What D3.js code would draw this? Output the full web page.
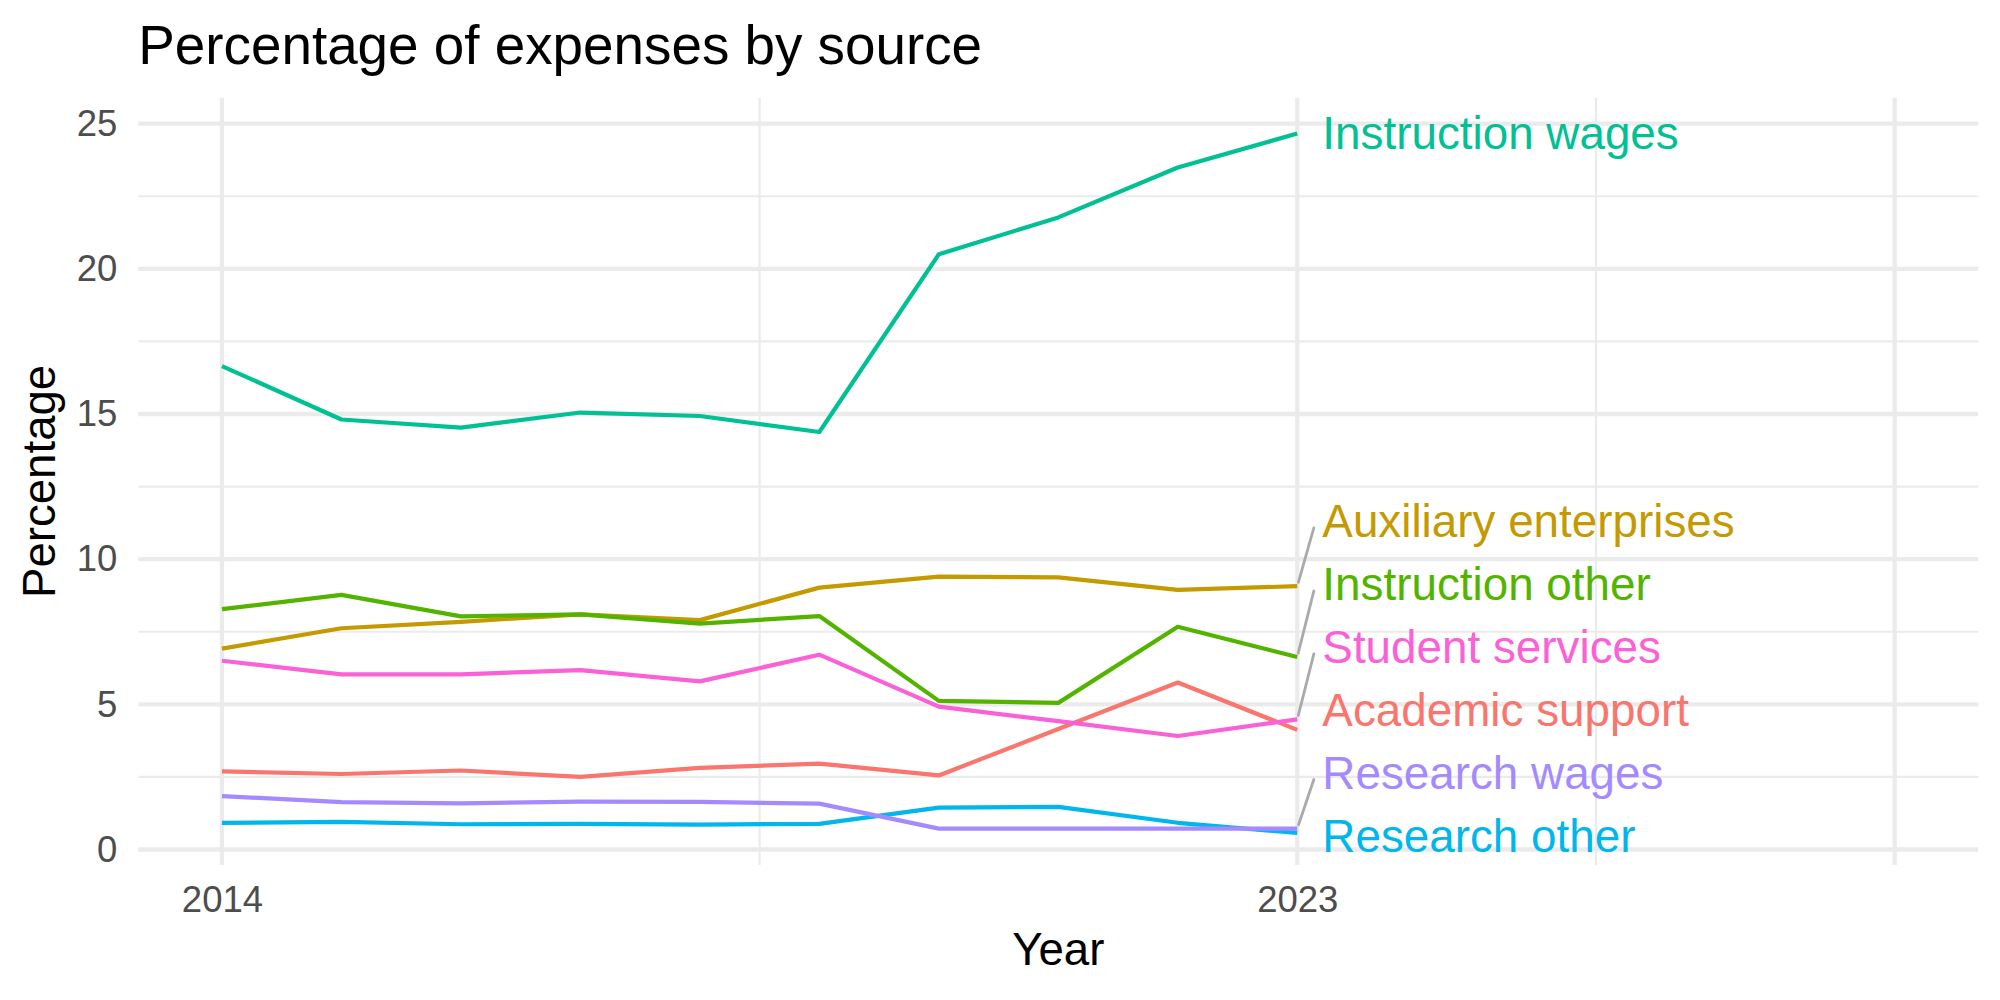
<!DOCTYPE html>
<html>
<head>
<meta charset="utf-8">
<script src="https://cdn.jsdelivr.net/npm/d3@7"></script>
<style>
  html, body { margin: 0; padding: 0; background: #ffffff; }
  svg { display: block; font-family: "Liberation Sans", Arial, Helvetica, sans-serif; }
</style>
</head>
<body>
<svg id="chart" width="2000" height="1000"></svg>
<script>
// ---------------- data ----------------
const years = [2014, 2015, 2016, 2017, 2018, 2019, 2020, 2021, 2022, 2023];
const seriesNames = ["Academic support", "Auxiliary enterprises", "Instruction other",
  "Instruction wages", "Research other", "Research wages", "Student services"];
const seriesColors = ["#F8766D", "#C49A00", "#53B400", "#00C094", "#00B6EB", "#A58AFF", "#FB61D7"];

const academicSupport      = [2.69, 2.60, 2.72, 2.50, 2.81, 2.96, 2.55, 4.15, 5.75, 4.12];
const auxiliaryEnterprises = [6.92, 7.62, 7.84, 8.10, 7.90, 9.02, 9.40, 9.37, 8.94, 9.07];
const instructionOther     = [8.28, 8.77, 8.03, 8.10, 7.78, 8.04, 5.12, 5.05, 7.67, 6.63];
const instructionWages     = [16.65, 14.81, 14.53, 15.05, 14.93, 14.38, 20.50, 21.77, 23.49, 24.66];
const researchOther        = [0.92, 0.95, 0.87, 0.88, 0.86, 0.88, 1.44, 1.47, 0.92, 0.57];
const researchWages        = [1.84, 1.63, 1.59, 1.65, 1.64, 1.58, 0.72, 0.72, 0.72, 0.72];
const studentServices      = [6.50, 6.03, 6.03, 6.18, 5.79, 6.71, 4.92, 4.42, 3.91, 4.48];

// repelled label positions (data units) at the right end
const labelYear = 2023.21;
const labelValues = [4.81, 11.32, 9.15, 24.69, 0.48, 2.65, 6.98];
const labelHasSegment = [false, true, true, false, false, true, true];

const yTicks = [0, 5, 10, 15, 20, 25];
const yMinor = [2.5, 7.5, 12.5, 17.5, 22.5];
const xBreaks = [2014, 2023, 2028];
const xTickLabels = ["2014", "2023", ""];
const xMinor = [2018.5, 2025.5];

const titleText = "Percentage of expenses by source";
const xTitle = "Year";
const yTitle = "Percentage";

const seriesValues = [academicSupport, auxiliaryEnterprises, instructionOther,
  instructionWages, researchOther, researchWages, studentServices];

// ---------------- layout ----------------
const svg = d3.select("#chart");
const panel = { left: 138.3, right: 1978.3, top: 97.8, bottom: 865 };

const x = d3.scaleLinear().domain([2013.3, 2028.7]).range([panel.left, panel.right]);
const y = d3.scaleLinear().domain([-0.534, 25.89]).range([panel.bottom, panel.top]);

const grid = svg.append("g");
grid.selectAll(".ymin").data(yMinor).enter().append("line")
  .attr("x1", panel.left).attr("x2", panel.right)
  .attr("y1", d => y(d)).attr("y2", d => y(d))
  .attr("stroke", "#ebebeb").attr("stroke-width", 2.2);
grid.selectAll(".xmin").data(xMinor).enter().append("line")
  .attr("y1", panel.top).attr("y2", panel.bottom)
  .attr("x1", d => x(d)).attr("x2", d => x(d))
  .attr("stroke", "#ebebeb").attr("stroke-width", 2.2);
grid.selectAll(".ymaj").data(yTicks).enter().append("line")
  .attr("x1", panel.left).attr("x2", panel.right)
  .attr("y1", d => y(d)).attr("y2", d => y(d))
  .attr("stroke", "#ebebeb").attr("stroke-width", 4.3);
grid.selectAll(".xmaj").data(xBreaks).enter().append("line")
  .attr("y1", panel.top).attr("y2", panel.bottom)
  .attr("x1", d => x(d)).attr("x2", d => x(d))
  .attr("stroke", "#ebebeb").attr("stroke-width", 4.3);

// axes (text only, via d3 axis)
const yAxis = d3.axisLeft(y).tickValues(yTicks).tickSize(0).tickPadding(21);
const gy = svg.append("g").attr("transform", `translate(${panel.left},0)`).call(yAxis);
gy.select(".domain").remove();
gy.selectAll("text").attr("fill", "#4d4d4d").attr("font-size", 36.5)
  .attr("font-family", "Liberation Sans, Arial, sans-serif");

const xAxis = d3.axisBottom(x).tickValues(xBreaks).tickSize(0).tickPadding(21)
  .tickFormat((d, i) => xTickLabels[i]);
const gx = svg.append("g").attr("transform", `translate(0,${panel.bottom})`).call(xAxis);
gx.select(".domain").remove();
gx.selectAll("text").attr("fill", "#4d4d4d").attr("font-size", 36.5)
  .attr("font-family", "Liberation Sans, Arial, sans-serif");

// lines
const line = d3.line().x((d, i) => x(years[i])).y(d => y(d));
svg.append("g").selectAll("path").data(seriesValues).enter().append("path")
  .attr("d", d => line(d))
  .attr("fill", "none")
  .attr("stroke", (d, i) => seriesColors[i])
  .attr("stroke-width", 4.2)
  .attr("stroke-linejoin", "round");

// segments
const segG = svg.append("g");
seriesNames.forEach((name, i) => {
  if (!labelHasSegment[i]) return;
  const vals = seriesValues[i];
  const px = x(years[years.length - 1]);
  const py = y(vals[vals.length - 1]);
  const ex = x(labelYear) - 8.5;
  const ey = y(labelValues[i]) + 7;
  const dx = ex - px, dy = ey - py;
  const len = Math.sqrt(dx * dx + dy * dy);
  const trim = 4;
  segG.append("line")
    .attr("x1", px + dx / len * trim).attr("y1", py + dy / len * trim)
    .attr("x2", ex).attr("y2", ey)
    .attr("stroke", "#aaaaaa").attr("stroke-width", 2.8)
    .attr("stroke-linecap", "round");
});

// labels
svg.append("g").selectAll("text").data(seriesNames).enter().append("text")
  .attr("x", x(labelYear))
  .attr("y", (d, i) => y(labelValues[i]))
  .attr("dy", "0.35em")
  .attr("font-size", 45.8)
  .attr("fill", (d, i) => seriesColors[i])
  .text(d => d);

// titles
svg.append("text").attr("x", panel.left).attr("y", 63.5)
  .attr("font-size", 54.8).attr("fill", "#000").text(titleText);
svg.append("text").attr("x", (panel.left + panel.right) / 2).attr("y", 965)
  .attr("text-anchor", "middle").attr("font-size", 45.6).attr("fill", "#000").text(xTitle);
svg.append("text")
  .attr("transform", `translate(55,${(panel.top + panel.bottom) / 2}) rotate(-90)`)
  .attr("text-anchor", "middle").attr("font-size", 45.6).attr("fill", "#000").text(yTitle);
</script>
</body>
</html>
